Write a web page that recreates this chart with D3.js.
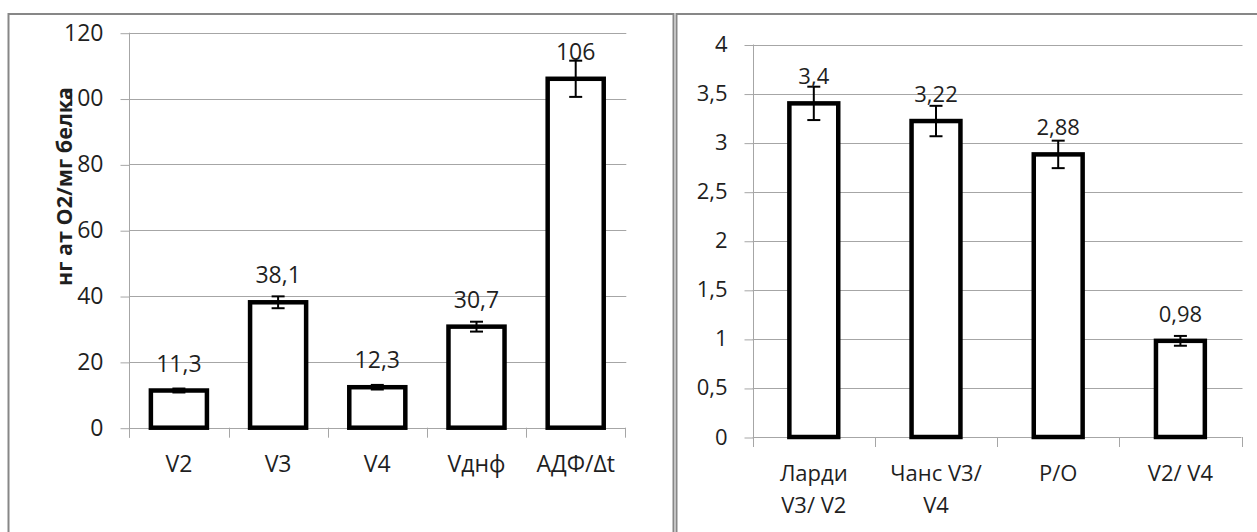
<!DOCTYPE html>
<html>
<head>
<meta charset="utf-8">
<script src="https://cdn.jsdelivr.net/npm/d3@7"></script>
<style>
  body { margin: 0; background: #fff; }
  svg { display: block; }
  text { font-family: "Open Sans", "Noto Sans", sans-serif; fill: #1f1f1f; }
</style>
</head>
<body>
<svg width="1257" height="532"></svg>
<script>
var svg = d3.select("svg");

// left chart data
var leftCats = ["V2", "V3", "V4", "Vднф", "АДФ/Δt"];
var leftVals = [11.3, 38.1, 12.3, 30.7, 106];
var leftErr = [0.6, 1.8, 0.7, 1.5, 5.5];
var leftTicks = [0, 20, 40, 60, 80, 100, 120];
var leftTitle = "нг ат О2/мг белка";

// right chart data
var rightCats = [["Ларди", "V3/ V2"], ["Чанс V3/", "V4"], ["P/O"], ["V2/ V4"]];
var rightVals = [3.4, 3.22, 2.88, 0.98];
var rightErr = [0.17, 0.155, 0.14, 0.05];
var rightTicks = [0, 0.5, 1, 1.5, 2, 2.5, 3, 3.5, 4];

var GRID = "#a6a6a6";
var FRAME = "#878787";

function comma(v) { return String(v).replace(".", ","); }

// frames
svg.append("rect").attr("x", 8.5).attr("y", 14).attr("width", 665).attr("height", 540)
    .attr("fill", "none").attr("stroke", FRAME).attr("stroke-width", 2);
svg.append("rect").attr("x", 676.5).attr("y", 14).attr("width", 620).attr("height", 540)
    .attr("fill", "none").attr("stroke", FRAME).attr("stroke-width", 2);

function drawChart(opt) {
    var g = svg.append("g");
    var x = d3.scaleBand()
        .domain(d3.range(opt.vals.length))
        .range([opt.x0, opt.x1])
        .paddingInner(opt.pad)
        .paddingOuter(opt.pad / 2);
    var y = d3.scaleLinear().domain(opt.domain).range([opt.y0, opt.y1]);

    // gridlines
    g.append("g").selectAll("line")
        .data(opt.ticks.slice(1))
        .enter().append("line")
        .attr("x1", opt.x0).attr("x2", opt.x1 + 1)
        .attr("y1", function (d) { return Math.round(y(d)) + 0.5; })
        .attr("y2", function (d) { return Math.round(y(d)) + 0.5; })
        .attr("stroke", GRID).attr("stroke-width", 1);

    // y axis
    var yAxis = g.append("g")
        .attr("transform", "translate(" + (Math.round(opt.x0) + 0.5) + ",0)")
        .call(d3.axisLeft(y).tickValues(opt.ticks).tickFormat(comma)
            .tickSize(9).tickPadding(17));
    yAxis.select(".domain").remove();
    yAxis.selectAll(".tick line").attr("stroke", GRID)
        .attr("transform", "translate(0,0.5)");
    yAxis.selectAll(".tick text")
        .style("font-family", '"Open Sans", sans-serif')
        .style("font-size", opt.tickFont + "px").attr("fill", "#1f1f1f");
    g.append("line")
        .attr("x1", Math.round(opt.x0) + 0.5).attr("x2", Math.round(opt.x0) + 0.5)
        .attr("y1", y(opt.domain[1])).attr("y2", y(0) + 10)
        .attr("stroke", GRID);

    // x axis line and boundary ticks
    var bounds = d3.range(opt.vals.length + 1).map(function (i) { return opt.x0 + i * x.step(); });
    g.append("line")
        .attr("x1", opt.x0).attr("x2", opt.x1)
        .attr("y1", Math.round(y(0)) + 0.5).attr("y2", Math.round(y(0)) + 0.5)
        .attr("stroke", GRID);
    g.append("g").selectAll("line")
        .data(bounds)
        .enter().append("line")
        .attr("x1", function (d) { return Math.round(d) + 0.5; })
        .attr("x2", function (d) { return Math.round(d) + 0.5; })
        .attr("y1", y(0)).attr("y2", y(0) + 10)
        .attr("stroke", GRID);

    // bars
    g.append("g").selectAll("rect")
        .data(opt.vals)
        .enter().append("rect")
        .attr("x", function (d, i) { return x(i); })
        .attr("width", x.bandwidth())
        .attr("y", function (d) { return y(d); })
        .attr("height", function (d) { return y(0) - y(d); })
        .attr("fill", "#fff")
        .attr("stroke", "#000")
        .attr("stroke-width", 4.5);

    // error bars
    var eb = g.append("g").attr("stroke", "#000").attr("stroke-width", 2);
    opt.vals.forEach(function (v, i) {
        var cx = x(i) + x.bandwidth() / 2;
        var e = opt.err[i];
        eb.append("line").attr("x1", cx).attr("x2", cx).attr("y1", y(v + e)).attr("y2", y(v - e));
        eb.append("line").attr("x1", cx - 6.5).attr("x2", cx + 6.5).attr("y1", y(v + e)).attr("y2", y(v + e));
        eb.append("line").attr("x1", cx - 6.5).attr("x2", cx + 6.5).attr("y1", y(v - e)).attr("y2", y(v - e));
    });

    // value labels
    g.append("g").selectAll("text")
        .data(opt.vals)
        .enter().append("text")
        .attr("x", function (d, i) { return x(i) + x.bandwidth() / 2; })
        .attr("y", function (d) { return y(d) - 19; })
        .attr("text-anchor", "middle")
        .style("font-size", opt.labelFont + "px")
        .text(comma);

    // category labels
    var cl = g.append("g").selectAll("text")
        .data(opt.cats)
        .enter().append("text")
        .attr("x", function (d, i) { return x(i) + x.bandwidth() / 2; })
        .attr("y", y(0) + 44)
        .attr("text-anchor", "middle")
        .style("font-size", opt.catFont + "px");
    cl.each(function (d) {
        var lines = Array.isArray(d) ? d : [d];
        var t = d3.select(this);
        lines.forEach(function (s, k) {
            t.append("tspan")
                .attr("x", t.attr("x"))
                .attr("dy", k === 0 ? 0 : 32)
                .text(s);
        });
    });
    return g;
}

drawChart({
    cats: leftCats, vals: leftVals, err: leftErr, ticks: leftTicks,
    domain: [0, 120], x0: 129.3, x1: 625.3, y0: 427.7, y1: 32.7,
    pad: 0.435, tickFont: 23, labelFont: 23, catFont: 23
});

drawChart({
    cats: rightCats, vals: rightVals, err: rightErr, ticks: rightTicks,
    domain: [0, 4], x0: 752.7, x1: 1241.5, y0: 437, y1: 44.5,
    pad: 0.6, tickFont: 22, labelFont: 22, catFont: 22
});

// left y axis title
svg.append("text")
    .attr("transform", "translate(64.5,186.5) rotate(-90)")
    .attr("text-anchor", "middle")
    .attr("dy", "0.35em")
    .style("font-size", "21.5px")
    .style("font-weight", "bold")
    .attr("fill", "#000")
    .text(leftTitle);
</script>
</body>
</html>
